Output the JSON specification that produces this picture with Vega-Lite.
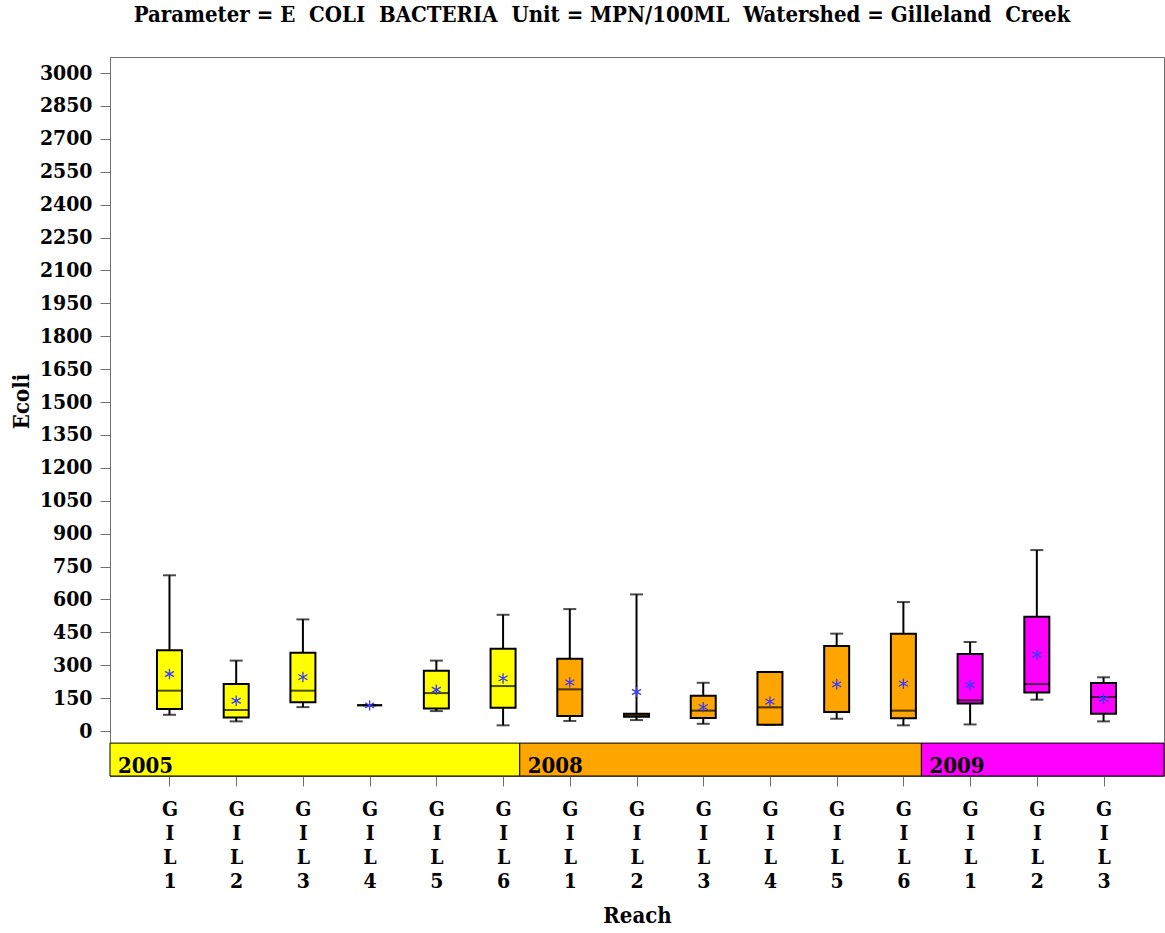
{
  "$schema": "https://vega.github.io/schema/vega-lite/v6.json",
  "autosize": {"type": "none"},
  "width": 1054,
  "height": 719,
  "padding": {"left": 110, "top": 57, "right": 1, "bottom": 157},
  "background": "white",
  "title": {
    "text": "Parameter = E\u00a0\u00a0COLI\u00a0\u00a0BACTERIA\u00a0\u00a0Unit = MPN/100ML\u00a0\u00a0Watershed = Gilleland\u00a0\u00a0Creek",
    "fontSize": 22,
    "font": "DejaVu Serif Condensed, Liberation Serif",
    "fontWeight": "bold",
    "anchor": "middle",
    "offset": 30,
    "dx": -35,
    "color": "black"
  },
  "config": {
    "font": "DejaVu Serif Condensed, Liberation Serif",
    "view": {"stroke": "#707070", "strokeWidth": 1},
    "axis": {
      "labelFont": "DejaVu Serif Condensed, Liberation Serif",
      "titleFont": "DejaVu Serif Condensed, Liberation Serif",
      "labelFontWeight": "bold",
      "titleFontWeight": "bold",
      "labelFontSize": 21,
      "titleFontSize": 22,
      "labelColor": "black",
      "titleColor": "black",
      "tickColor": "#707070",
      "tickSize": 10,
      "grid": false,
      "domain": false,
      "labelOverlap": false,
      "labelFlush": false
    }
  },
  "datasets": {
    "boxes": [
      {"Year": "2005", "Reach": "GIL1", "Order": 1, "Low": 74, "Q1": 100, "Median": 184, "Q3": 368, "High": 710, "Mean": 260},
      {"Year": "2005", "Reach": "GIL2", "Order": 2, "Low": 44, "Q1": 62, "Median": 96, "Q3": 214, "High": 321, "Mean": 138},
      {"Year": "2005", "Reach": "GIL3", "Order": 3, "Low": 109, "Q1": 131, "Median": 184, "Q3": 357, "High": 509, "Mean": 246},
      {"Year": "2005", "Reach": "GIL4", "Order": 4, "Low": 117, "Q1": 117, "Median": 117, "Q3": 117, "High": 117, "Mean": 117},
      {"Year": "2005", "Reach": "GIL5", "Order": 5, "Low": 91, "Q1": 103, "Median": 173, "Q3": 275, "High": 321, "Mean": 188},
      {"Year": "2005", "Reach": "GIL6", "Order": 6, "Low": 26, "Q1": 106, "Median": 205, "Q3": 375, "High": 530, "Mean": 240},
      {"Year": "2008", "Reach": "GIL1", "Order": 7, "Low": 46, "Q1": 68, "Median": 190, "Q3": 330, "High": 556, "Mean": 222},
      {"Year": "2008", "Reach": "GIL2", "Order": 8, "Low": 50, "Q1": 65, "Median": 72, "Q3": 79, "High": 623, "Mean": 178},
      {"Year": "2008", "Reach": "GIL3", "Order": 9, "Low": 33, "Q1": 59, "Median": 93, "Q3": 161, "High": 220, "Mean": 109},
      {"Year": "2008", "Reach": "GIL4", "Order": 10, "Low": 29, "Q1": 29, "Median": 108, "Q3": 269, "High": 269, "Mean": 134},
      {"Year": "2008", "Reach": "GIL5", "Order": 11, "Low": 56, "Q1": 87, "Median": 87, "Q3": 388, "High": 444, "Mean": 213},
      {"Year": "2008", "Reach": "GIL6", "Order": 12, "Low": 26, "Q1": 58, "Median": 93, "Q3": 444, "High": 588, "Mean": 216},
      {"Year": "2009", "Reach": "GIL1", "Order": 13, "Low": 30, "Q1": 126, "Median": 140, "Q3": 351, "High": 406, "Mean": 210},
      {"Year": "2009", "Reach": "GIL2", "Order": 14, "Low": 143, "Q1": 176, "Median": 214, "Q3": 521, "High": 825, "Mean": 348},
      {"Year": "2009", "Reach": "GIL3", "Order": 15, "Low": 44, "Q1": 79, "Median": 155, "Q3": 219, "High": 245, "Mean": 147}
    ],
    "years": [
      {"Year": "2005", "from": 0, "to": 6.25},
      {"Year": "2008", "from": 6.25, "to": 12.27},
      {"Year": "2009", "from": 12.27, "to": 17}
    ]
  },
  "layer": [
    {
      "data": {"name": "boxes"},
      "mark": {"type": "rule", "color": "black", "strokeWidth": 2},
      "encoding": {
        "x": {
          "field": "Order", "type": "quantitative",
          "scale": {"domain": [0.1835, 15.831], "nice": false, "zero": false, "clamp": true},
          "axis": {
            "values": [1, 2, 3, 4, 5, 6, 7, 8, 9, 10, 11, 12, 13, 14, 15],
            "tickCount": 40,
            "labelExpr": "['G', 'I', 'L', '' + (datum.value <= 6 ? datum.value : datum.value <= 12 ? datum.value - 6 : datum.value - 12)]",
            "labelAngle": 0,
            "labelPadding": 12,
            "labelLineHeight": 24,
            "labelBaseline": "top",
            "titlePadding": 14
          },
          "title": "Reach"
        },
        "y": {
          "field": "Low", "type": "quantitative",
          "scale": {"domain": [-205, 3073], "nice": false, "zero": false},
          "axis": {
            "values": [0, 150, 300, 450, 600, 750, 900, 1050, 1200, 1350, 1500, 1650, 1800, 1950, 2100, 2250, 2400, 2550, 2700, 2850, 3000],
            "tickCount": 40,
            "format": "d",
            "labelOverlap": false,
            "labelPadding": 8,
            "titlePadding": 6,
            "titleY": 344
          },
          "title": "Ecoli"
        },
        "y2": {"field": "High"}
      }
    },
    {
      "data": {"name": "boxes"},
      "mark": {"type": "tick", "orient": "horizontal", "size": 13, "thickness": 2, "color": "black"},
      "encoding": {
        "x": {"field": "Order", "type": "quantitative", "title": "Reach"},
        "y": {"field": "Low", "type": "quantitative", "title": "Ecoli"}
      }
    },
    {
      "data": {"name": "boxes"},
      "mark": {"type": "tick", "orient": "horizontal", "size": 13, "thickness": 2, "color": "black"},
      "encoding": {
        "x": {"field": "Order", "type": "quantitative", "title": "Reach"},
        "y": {"field": "High", "type": "quantitative", "title": "Ecoli"}
      }
    },
    {
      "data": {"name": "boxes"},
      "mark": {"type": "bar", "size": 25, "stroke": "black", "strokeWidth": 2},
      "encoding": {
        "x": {"field": "Order", "type": "quantitative", "title": "Reach"},
        "y": {"field": "Q1", "type": "quantitative", "title": "Ecoli"},
        "y2": {"field": "Q3"},
        "color": {"field": "Year", "type": "nominal", "scale": {"domain": ["2005", "2008", "2009"], "range": ["#ffff00", "#ffa500", "#ff00ff"]}, "legend": null}
      }
    },
    {
      "data": {"name": "boxes"},
      "mark": {"type": "tick", "orient": "horizontal", "size": 25, "thickness": 2, "color": "black"},
      "encoding": {
        "x": {"field": "Order", "type": "quantitative", "title": "Reach"},
        "y": {"field": "Median", "type": "quantitative", "title": "Ecoli"}
      }
    },
    {
      "data": {"name": "boxes"},
      "mark": {"type": "point", "shape": "M0,-1L0,1M-0.866,-0.5L0.866,0.5M-0.866,0.5L0.866,-0.5", "filled": false, "size": 110, "strokeWidth": 1.3, "color": "#3a3aff", "opacity": 1},
      "encoding": {
        "x": {"field": "Order", "type": "quantitative", "title": "Reach"},
        "y": {"field": "Mean", "type": "quantitative", "title": "Ecoli"}
      }
    },
    {
      "data": {"name": "years"},
      "mark": {"type": "rect", "stroke": "black", "strokeWidth": 1},
      "encoding": {
        "x": {"field": "from", "type": "quantitative", "title": "Reach"},
        "x2": {"field": "to"},
        "y": {"datum": -55, "type": "quantitative", "title": "Ecoli"},
        "y2": {"datum": -205},
        "color": {"field": "Year", "type": "nominal", "legend": null}
      }
    },
    {
      "data": {"name": "years"},
      "mark": {"type": "text", "align": "left", "baseline": "alphabetic", "dx": 8, "dy": -3, "fontSize": 22, "fontWeight": "bold", "color": "black"},
      "encoding": {
        "x": {"field": "from", "type": "quantitative", "title": "Reach"},
        "y": {"datum": -205, "type": "quantitative", "title": "Ecoli"},
        "text": {"field": "Year"}
      }
    },
    {
      "mark": {"type": "rule", "color": "#808080", "strokeWidth": 1},
      "encoding": {"y": {"datum": 87, "type": "quantitative", "title": "Ecoli"}}
    }
  ]
}
